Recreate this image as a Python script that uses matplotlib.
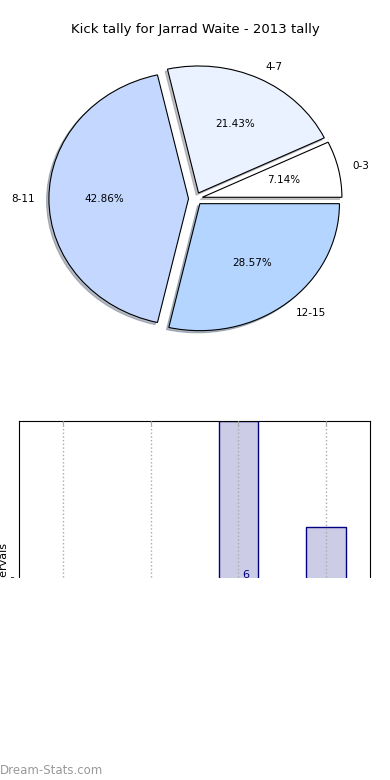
import matplotlib
matplotlib.use("Agg")
import matplotlib.pyplot as plt
from matplotlib.patches import Rectangle

# pie data
labels = ["0-3", "4-7", "8-11", "12-15"]
counts = [1, 3, 6, 4]
colors = ["#FFFFFF", "#EBF2FF", "#C4D8FF", "#B4D5FF"]

# bar data (same intervals)
bar_pos = [0, 1, 2, 3]
bar_vals = [1, 3, 6, 4]

W, H = 390, 780
fig = plt.figure(figsize=(3.9, 7.8), dpi=100)

def px(x0, y0, x1, y1):
    # pixel box -> figure fraction
    return [x0 / W, 1 - y1 / H, (x1 - x0) / W, (y1 - y0) / H]

# pie (not equal aspect, like the original)
rx, ry, cx, cy, L = 139.6, 127.0, 195.5, 198.7, 1.25
ax = fig.add_axes(px(cx - rx * L, cy - ry * L, cx + rx * L, cy + ry * L))
wedges, texts, autotexts = ax.pie(counts, labels=labels, colors=colors,
                                  explode=[0.05] * 4, autopct="%1.2f%%",
                                  shadow=dict(ox=-0.012, oy=-0.012, shade=0.45),
                                  startangle=0,
                                  wedgeprops=dict(edgecolor="black", linewidth=0.8),
                                  textprops=dict(fontsize=7.5))
ax.set_aspect("auto")
ax.set_xlim(-L, L)
ax.set_ylim(-L, L)
fig.text(0.5, 1 - 30 / H, "Kick tally for Jarrad Waite - 2013 tally",
         ha="center", va="center", fontsize=9.5)

# bar chart, bottom half cut off in the original
ax2 = fig.add_axes(px(19, 421, 370, 739))
ax2.bar(bar_pos, bar_vals, width=0.45, color="#CCCCE6", edgecolor="navy", linewidth=1)
for x, v in zip(bar_pos, bar_vals):
    ax2.text(x + 0.04, v / 2, str(v), color="navy", fontsize=8, ha="left", va="bottom")
ax2.set_xlim(-0.5, 3.5)
ax2.set_ylim(0, 6)
ax2.set_yticks([0, 3])
ax2.tick_params(axis="y", labelsize=6, pad=1, length=2)
ax2.set_ylabel("Kick intervals", fontsize=8)
ax2.yaxis.set_label_coords(-0.028, 0.5)
ax2.xaxis.grid(True, linestyle=":", color="#AAAAAA", linewidth=1)
ax2.set_axisbelow(False)
ax2.set_xticks(bar_pos)
ax2.tick_params(axis="x", top=True, direction="in", color="#AAAAAA", labelbottom=False)

# blank out the lower part
fig.patches.append(Rectangle((0, 0), 1, (H - 578) / H, transform=fig.transFigure,
                             facecolor="white", edgecolor="none", zorder=10))
fig.text(0.0, 1 - 770 / H, "Dream-Stats.com", fontsize=8.5, color="#999999",
         ha="left", va="center", zorder=11)

fig.savefig("out.png", dpi=100)
